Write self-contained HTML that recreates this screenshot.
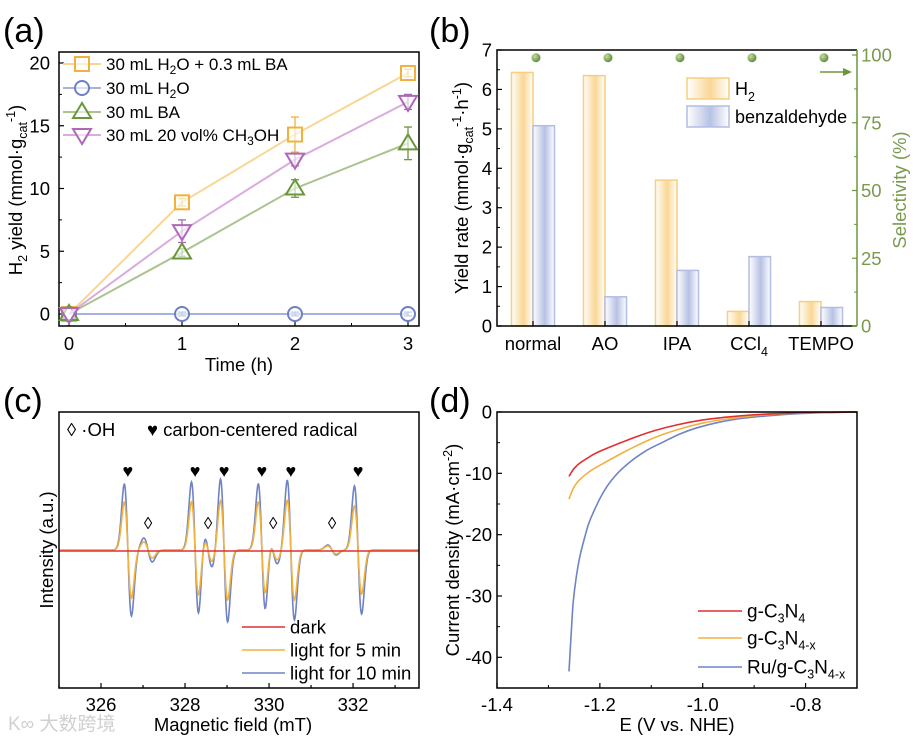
<!DOCTYPE html>
<html><head><meta charset="utf-8">
<style>
html,body{margin:0;padding:0;background:#fff;}
svg{display:block;font-family:"Liberation Sans","Noto Sans CJK SC",sans-serif;}
</style></head>
<body>
<svg id="fig" width="913" height="746" viewBox="0 0 913 746" xmlns="http://www.w3.org/2000/svg">
<defs>
<linearGradient id="gO" x1="0" x2="1" y1="0" y2="0"><stop offset="0" stop-color="#fff"/><stop offset="0.55" stop-color="#f9d796"/><stop offset="1" stop-color="#fff"/></linearGradient>
<linearGradient id="gB" x1="0" x2="1" y1="0" y2="0"><stop offset="0" stop-color="#fff"/><stop offset="0.55" stop-color="#b7c2e4"/><stop offset="1" stop-color="#fff"/></linearGradient>
<radialGradient id="gDot" cx="0.35" cy="0.35" r="0.7"><stop offset="0" stop-color="#c5dca4"/><stop offset="1" stop-color="#5e8a34"/></radialGradient>
</defs>
<g id="pa"></g>
<g id="pb"></g>
<g id="pc"></g>
<g id="pd"></g>
<text x="8" y="730" font-size="19" fill="#d0d0d0">K∞ 大数跨境</text>
</svg>
<script>
// ---------- Panel (a) data ----------
const aTimes = [0, 1, 2, 3];
const aSeriesNames = ["30 mL H2O + 0.3 mL BA", "30 mL H2O", "30 mL BA", "30 mL 20 vol% CH3OH"];
const aOrange = [0, 8.9, 14.3, 19.2];
const aOrangeErr = [0, 0.3, 1.4, 0.3];
const aBlue = [0, 0, 0, 0];
const aBlueErr = [0, 0.15, 0.15, 0.15];
const aGreen = [0, 4.9, 10.0, 13.6];
const aGreenErr = [0, 0.3, 0.7, 1.3];
const aPurple = [0, 6.6, 12.3, 16.9];
const aPurpleErr = [0, 0.9, 0.5, 0.6];
const aYTicks = [0, 5, 10, 15, 20];
const aXTicks = [0, 1, 2, 3];
// ---------- Panel (b) data ----------
const bCategories = ["normal", "AO", "IPA", "CCl4", "TEMPO"];
const bH2 = [6.43, 6.35, 3.70, 0.37, 0.62];
const bBenz = [5.08, 0.74, 1.41, 1.76, 0.47];
const bSelectivity = [99, 99, 99, 99, 99];
const bYTicks = [0, 1, 2, 3, 4, 5, 6, 7];
const bRTicks = [0, 25, 50, 75, 100];
// ---------- Panel (c) data ----------
const cCarbonCenters = [326.64, 328.24, 328.93, 329.83, 330.52, 332.12];
const cCarbonAmp10 = [66, 68, 72, 66, 70, 64];
const cCarbonAmp5 = [48, 48, 50, 48, 50, 44];
const cOHCenters = [327.12, 328.55, 330.1, 331.5];
const cOHAmp10 = [12, 18, 14, 5];
const cOHAmp5 = [8, 12, 10, 4];
const cXTicks = [326, 328, 330, 332];
// ---------- Panel (d) data ----------
const dRedE = [-1.26, -1.255, -1.25, -1.24, -1.22, -1.2, -1.15, -1.1, -1.05, -1.0, -0.95, -0.9, -0.85, -0.8, -0.75, -0.7];
const dRedJ = [-10.5, -9.8, -9.2, -8.4, -7.3, -6.4, -4.7, -3.2, -2.1, -1.3, -0.8, -0.45, -0.25, -0.1, -0.05, 0];
const dOrangeE = [-1.26, -1.255, -1.25, -1.24, -1.22, -1.2, -1.15, -1.1, -1.05, -1.0, -0.95, -0.9, -0.85, -0.8, -0.75, -0.7];
const dOrangeJ = [-14.2, -13.1, -12.2, -11.1, -9.7, -8.7, -6.4, -4.4, -2.9, -1.8, -1.1, -0.6, -0.3, -0.15, -0.05, 0];
const dBlueE = [-1.26, -1.256, -1.252, -1.246, -1.239, -1.229, -1.219, -1.194, -1.17, -1.142, -1.11, -1.077, -1.045, -1.012, -0.97, -0.92, -0.87, -0.82, -0.76, -0.7];
const dBlueJ = [-42.3, -36.5, -31.2, -27.0, -23.6, -20.3, -17.6, -13.2, -10.4, -8.2, -6.3, -4.9, -3.6, -2.6, -1.7, -1.0, -0.6, -0.3, -0.1, 0];
const dYTicks = [0, -10, -20, -30, -40];
const dXTicks = [-1.4, -1.2, -1.0, -0.8];

const FS = 18.5, SUB = 12.5;
const NS = "http://www.w3.org/2000/svg";
function mk(parent, tag, attrs, txt) {
  const e = document.createElementNS(NS, tag);
  for (const k in attrs) e.setAttribute(k, attrs[k]);
  if (txt !== undefined) e.innerHTML = txt;
  parent.appendChild(e);
  return e;
}
function lin(d0, d1, r0, r1) { return v => r0 + (v - d0) * (r1 - r0) / (d1 - d0); }
function sub(s, dy) { dy = dy || 5; return `<tspan font-size="${SUB}" dy="${dy}">${s}</tspan>`; }

// ================= PANEL A =================
(function () {
  const g = document.getElementById('pa');
  const X = lin(0, 3, 69, 408), Y = lin(0, 20, 314, 63);
  let t = mk(g, 'text', { x: 3, y: 42, 'font-size': 34 }, '(a)');
   
  const box = mk(g, 'rect', { x: 59, y: 52, width: 360, height: 274, fill: 'none', stroke: '#000', 'stroke-width': 1.5 });
   
  aYTicks.forEach(v => {
    mk(g, 'line', { x1: 59, x2: 64, y1: Y(v), y2: Y(v), stroke: '#000', 'stroke-width': 1.2 });
    if (v < 20) mk(g, 'line', { x1: 59, x2: 62, y1: Y(v + 2.5), y2: Y(v + 2.5), stroke: '#000' });
    const l = mk(g, 'text', { x: 50, y: Y(v) + 6.5, 'font-size': FS, 'text-anchor': 'end' }, v);
     
  });
  aXTicks.forEach(v => {
    mk(g, 'line', { x1: X(v), x2: X(v), y1: 326, y2: 321, stroke: '#000', 'stroke-width': 1.2 });
    if (v < 3) mk(g, 'line', { x1: X(v + 0.5), x2: X(v + 0.5), y1: 326, y2: 323, stroke: '#000' });
    const l = mk(g, 'text', { x: X(v), y: 350, 'font-size': FS, 'text-anchor': 'middle' }, v);
     
  });
  t = mk(g, 'text', { x: 239, y: 371, 'font-size': FS, 'text-anchor': 'middle' }, 'Time (h)');
   
  t = mk(g, 'text', { transform: 'translate(22,190) rotate(-90)', 'font-size': FS, 'text-anchor': 'middle' }, 'H' + sub('2') + '<tspan dy="-5"> yield (mmol·g</tspan>' + sub('cat') + `<tspan font-size="${SUB}" dy="-12">-1</tspan><tspan dy="7">)</tspan>`);
   

  const series = [
    { v: aOrange, e: aOrangeErr, c: '#f2b13e', lc: '#f8d795', m: 'sq', name: 'series-h2o-ba' },
    { v: aBlue, e: aBlueErr, c: '#6c80c4', lc: '#a7b3de', m: 'ci', name: 'series-h2o' },
    { v: aGreen, e: aGreenErr, c: '#6b973c', lc: '#abc38f', m: 'tu', name: 'series-ba' },
    { v: aPurple, e: aPurpleErr, c: '#ad69b6', lc: '#d9abde', m: 'td', name: 'series-ch3oh' }
  ];
  function marker(gg, type, cx, cy, col) {
    const s = 7;
    let el;
    if (type === 'sq') el = mk(gg, 'rect', { x: cx - s, y: cy - s, width: 2 * s, height: 2 * s, fill: '#fff', 'fill-opacity': 0.6, stroke: col, 'stroke-width': 2 });
    else if (type === 'ci') el = mk(gg, 'circle', { cx: cx, cy: cy, r: s, fill: '#fff', 'fill-opacity': 0.6, stroke: col, 'stroke-width': 2 });
    else if (type === 'tu') el = mk(gg, 'polygon', { points: `${cx},${cy - 9} ${cx - 9},${cy + 6} ${cx + 9},${cy + 6}`, fill: '#fff', 'fill-opacity': 0.6, stroke: col, 'stroke-width': 2 });
    else el = mk(gg, 'polygon', { points: `${cx},${cy + 9} ${cx - 9},${cy - 6} ${cx + 9},${cy - 6}`, fill: '#fff', 'fill-opacity': 0.6, stroke: col, 'stroke-width': 2 });
    return el;
  }
  series.forEach(s => {
    const sg = mk(g, 'g', {});
     
    const pts = aTimes.map((x, i) => X(x) + ',' + Y(s.v[i])).join(' ');
    const pl = mk(sg, 'polyline', { points: pts, fill: 'none', stroke: s.lc, 'stroke-width': 2 });
     
    aTimes.forEach((x, i) => {
      const cx = X(x), y1 = Y(s.v[i] + s.e[i]), y2 = Y(s.v[i] - s.e[i]);
      if (s.e[i] > 0) {
        mk(sg, 'line', { x1: cx, x2: cx, y1: y1, y2: y2, stroke: s.c, 'stroke-width': 1.3 });
        mk(sg, 'line', { x1: cx - 4, x2: cx + 4, y1: y1, y2: y1, stroke: s.c, 'stroke-width': 1.3 });
        mk(sg, 'line', { x1: cx - 4, x2: cx + 4, y1: y2, y2: y2, stroke: s.c, 'stroke-width': 1.3 });
      }
      const m = marker(sg, s.m, cx, Y(s.v[i]), s.c);
       
    });
  });
  const S2 = 12;
  const labels = [`30 mL H<tspan font-size="${S2}" dy="4">2</tspan><tspan dy="-4">O + 0.3 mL BA</tspan>`, `30 mL H<tspan font-size="${S2}" dy="4">2</tspan><tspan dy="-4">O</tspan>`, '30 mL BA', `30 mL 20 vol% CH<tspan font-size="${S2}" dy="4">3</tspan><tspan dy="-4">OH</tspan>`];
  const ly = [64, 88, 112, 135];
  series.forEach((s, i) => {
    const lg = mk(g, 'g', {});
     
    mk(lg, 'line', { x1: 63, x2: 101, y1: ly[i], y2: ly[i], stroke: s.lc, 'stroke-width': 2 });
    marker(lg, s.m, 82, ly[i], s.c);
    mk(lg, 'text', { x: 106, y: ly[i] + 6, 'font-size': 17 }, labels[i]);
  });
})();

// ================= PANEL B =================
(function () {
  const g = document.getElementById('pb');
  const Y = lin(0, 7, 326, 50), YR = lin(0, 100, 326, 55);
  const X = i => 533 + i * 72;
  let t = mk(g, 'text', { x: 429, y: 42, 'font-size': 34 }, '(b)');
   
  bCategories.forEach((c, i) => {
    const bw = 21.5;
    let r = mk(g, 'rect', { x: X(i) - bw, y: Y(bH2[i]), width: bw, height: 326 - Y(bH2[i]), fill: 'url(#gO)', stroke: '#f7cf7e', 'stroke-width': 1.5 });
     
    r = mk(g, 'rect', { x: X(i), y: Y(bBenz[i]), width: bw, height: 326 - Y(bBenz[i]), fill: 'url(#gB)', stroke: '#b3bde2', 'stroke-width': 1.5 });
     
    const d = mk(g, 'circle', { cx: X(i) + 3, cy: YR(bSelectivity[i]), r: 4.5, fill: 'url(#gDot)' });
     
    mk(g, 'line', { x1: X(i), x2: X(i), y1: 326, y2: 321, stroke: '#000', 'stroke-width': 1.2 });
    const lab = c === 'CCl4' ? 'CCl' + sub('4', 6) : c;
    const l = mk(g, 'text', { x: X(i), y: 350, 'font-size': FS, 'text-anchor': 'middle' }, lab);
     
  });
  const fl = mk(g, 'polyline', { points: '857,50 497,50 497,326 857,326', fill: 'none', stroke: '#000', 'stroke-width': 1.5 });
   
  const ra = mk(g, 'line', { x1: 857, x2: 857, y1: 50, y2: 326, stroke: '#6b973c', 'stroke-width': 1.5 });
   
  bYTicks.forEach(v => {
    mk(g, 'line', { x1: 497, x2: 502, y1: Y(v), y2: Y(v), stroke: '#000', 'stroke-width': 1.2 });
    if (v < 7) mk(g, 'line', { x1: 497, x2: 500, y1: Y(v + 0.5), y2: Y(v + 0.5), stroke: '#000' });
    const l = mk(g, 'text', { x: 492, y: Y(v) + 6.5, 'font-size': FS, 'text-anchor': 'end' }, v);
     
  });
  bRTicks.forEach(v => {
    mk(g, 'line', { x1: 857, x2: 852, y1: YR(v), y2: YR(v), stroke: '#6b973c', 'stroke-width': 1.2 });
    if (v < 100) mk(g, 'line', { x1: 857, x2: 854, y1: YR(v + 12.5), y2: YR(v + 12.5), stroke: '#6b973c' });
    const l = mk(g, 'text', { x: 861, y: YR(v) + 6.5, 'font-size': FS, fill: '#7a9a4e' }, v);
     
  });
  t = mk(g, 'text', { transform: 'translate(468,188) rotate(-90)', 'font-size': FS, 'text-anchor': 'middle' }, 'Yield rate (mmol·g' + sub('cat') + `<tspan font-size="${SUB}" dy="-12">-1</tspan><tspan dy="7">·h</tspan><tspan font-size="${SUB}" dy="-7">-1</tspan><tspan dy="7">)</tspan>`);
   
  t = mk(g, 'text', { transform: 'translate(906,190) rotate(-90)', 'font-size': FS, 'text-anchor': 'middle', fill: '#7a9a4e' }, 'Selectivity (%)');
   
  const ar = mk(g, 'g', {});
   
  mk(ar, 'line', { x1: 820, x2: 846, y1: 72, y2: 72, stroke: '#6b973c', 'stroke-width': 1.5 });
  mk(ar, 'polygon', { points: '852,72 843,68 843,76', fill: '#6b973c' });
  let lg = mk(g, 'g', {});
   
  mk(lg, 'rect', { x: 687, y: 78, width: 42, height: 21, fill: 'url(#gO)', stroke: '#f7cf7e', 'stroke-width': 1.5 });
  mk(lg, 'text', { x: 735, y: 95, 'font-size': 18 }, 'H' + sub('2', 6));
  lg = mk(g, 'g', {});
   
  mk(lg, 'rect', { x: 687, y: 106, width: 42, height: 21, fill: 'url(#gB)', stroke: '#b3bde2', 'stroke-width': 1.5 });
  mk(lg, 'text', { x: 735, y: 123, 'font-size': 18 }, 'benzaldehyde');
})();

// ================= PANEL C =================
(function () {
  const g = document.getElementById('pc');
  const X = lin(325, 333.57, 59, 419);
  const base = 550;
  let t = mk(g, 'text', { x: 3, y: 412, 'font-size': 34 }, '(c)');
   
  function spec(amps, ohAmps) {
    const pts = [];
    for (let px = 59; px <= 419; px += 0.5) {
      const b = 325 + (px - 59) / 42;
      let y = 0;
      cCarbonCenters.forEach((c, i) => { const u = (b - c) / 0.085; y += amps[i] * u * Math.exp(0.5 * (1 - u * u)); });
      cOHCenters.forEach((c, i) => { const u = (b - c) / 0.1; y += ohAmps[i] * u * Math.exp(0.5 * (1 - u * u)); });
      pts.push(px + ',' + (base + y).toFixed(2));
    }
    return pts.join(' ');
  }
  let p = mk(g, 'polyline', { points: spec(cCarbonAmp10, cOHAmp10), fill: 'none', stroke: '#6f83c5', 'stroke-width': 1.6 });
   
  p = mk(g, 'polyline', { points: spec(cCarbonAmp5, cOHAmp5), fill: 'none', stroke: '#f2b13e', 'stroke-width': 1.6 });
   
  p = mk(g, 'polyline', { points: '59,' + (base + 1) + ' 419,' + (base + 1), fill: 'none', stroke: '#e03030', 'stroke-width': 1.5 });
   
  cCarbonCenters.forEach(c => {
    const h = mk(g, 'text', { x: X(c), y: 477, 'font-size': 18, 'text-anchor': 'middle' }, '♥');
     
  });
  cOHCenters.forEach(c => {
    const h = mk(g, 'text', { x: X(c), y: 529, 'font-size': 17, 'text-anchor': 'middle' }, '◊');
     
  });
  const box = mk(g, 'rect', { x: 59, y: 412, width: 360, height: 276, fill: 'none', stroke: '#000', 'stroke-width': 1.5 });
   
  for (let v = 325; v <= 333.5; v += 1) {
    const major = cXTicks.indexOf(v) >= 0;
    mk(g, 'line', { x1: X(v), x2: X(v), y1: 688, y2: major ? 683 : 685, stroke: '#000', 'stroke-width': 1.2 });
  }
  cXTicks.forEach(v => {
    const l = mk(g, 'text', { x: X(v), y: 711, 'font-size': FS, 'text-anchor': 'middle' }, v);
     
  });
  t = mk(g, 'text', { x: 233, y: 731, 'font-size': FS, 'text-anchor': 'middle' }, 'Magnetic field (mT)');
   
  t = mk(g, 'text', { transform: 'translate(53,550) rotate(-90)', 'font-size': FS, 'text-anchor': 'middle' }, 'Intensity (a.u.)');
   
  t = mk(g, 'text', { x: 67, y: 436, 'font-size': FS }, '◊ ·OH');
   
  t = mk(g, 'text', { x: 147, y: 436, 'font-size': FS }, '♥ carbon-centered radical');
   
  const lc = [['#e03030', 'dark'], ['#f2b13e', 'light for 5 min'], ['#6f83c5', 'light for 10 min']];
  lc.forEach((d, i) => {
    const y = 627 + i * 23;
    const lg = mk(g, 'g', {});
     
    mk(lg, 'line', { x1: 242, x2: 285, y1: y, y2: y, stroke: d[0], 'stroke-width': 1.6 });
    mk(lg, 'text', { x: 290, y: y + 6.5, 'font-size': FS }, d[1]);
  });
})();

// ================= PANEL D =================
(function () {
  const g = document.getElementById('pd');
  const X = lin(-1.4, -0.7, 497, 857), Y = lin(0, -45, 412, 688);
  let t = mk(g, 'text', { x: 429, y: 412, 'font-size': 34 }, '(d)');
   
  function path(E, J) {
    const P = E.map((e, i) => [X(e), Y(J[i])]);
    let d = 'M' + P[0][0] + ',' + P[0][1];
    for (let i = 0; i < P.length - 1; i++) {
      const p0 = P[Math.max(0, i - 1)], p1 = P[i], p2 = P[i + 1], p3 = P[Math.min(P.length - 1, i + 2)];
      const c1 = [p1[0] + (p2[0] - p0[0]) / 6, p1[1] + (p2[1] - p0[1]) / 6];
      const c2 = [p2[0] - (p3[0] - p1[0]) / 6, p2[1] - (p3[1] - p1[1]) / 6];
      d += ` C${c1[0]},${c1[1]} ${c2[0]},${c2[1]} ${p2[0]},${p2[1]}`;
    }
    return d;
  }
  let p = mk(g, 'path', { d: path(dBlueE, dBlueJ), fill: 'none', stroke: '#6f83c5', 'stroke-width': 1.6 });
   
  p = mk(g, 'path', { d: path(dOrangeE, dOrangeJ), fill: 'none', stroke: '#f2b13e', 'stroke-width': 1.6 });
   
  p = mk(g, 'path', { d: path(dRedE, dRedJ), fill: 'none', stroke: '#e03030', 'stroke-width': 1.6 });
   
  const box = mk(g, 'rect', { x: 497, y: 412, width: 360, height: 276, fill: 'none', stroke: '#000', 'stroke-width': 1.5 });
   
  dYTicks.forEach(v => {
    mk(g, 'line', { x1: 497, x2: 502, y1: Y(v), y2: Y(v), stroke: '#000', 'stroke-width': 1.2 });
    mk(g, 'line', { x1: 497, x2: 500, y1: Y(v - 5), y2: Y(v - 5), stroke: '#000' });
    const l = mk(g, 'text', { x: 492, y: Y(v) + 6.5, 'font-size': FS, 'text-anchor': 'end' }, v);
     
  });
  dXTicks.forEach(v => {
    mk(g, 'line', { x1: X(v), x2: X(v), y1: 688, y2: 683, stroke: '#000', 'stroke-width': 1.2 });
    mk(g, 'line', { x1: X(v + 0.1), x2: X(v + 0.1), y1: 688, y2: 685, stroke: '#000' });
    const l = mk(g, 'text', { x: X(v), y: 711, 'font-size': FS, 'text-anchor': 'middle' }, v.toFixed(1));
     
  });
  t = mk(g, 'text', { x: 677, y: 731, 'font-size': FS, 'text-anchor': 'middle' }, 'E (V vs. NHE)');
   
  t = mk(g, 'text', { transform: 'translate(459,550) rotate(-90)', 'font-size': FS, 'text-anchor': 'middle' }, `Current density (mA·cm<tspan font-size="${SUB}" dy="-7">-2</tspan><tspan dy="7">)</tspan>`);
   
  const lc = [['#e03030', 'g-C' + sub('3') + '<tspan dy="-5">N</tspan>' + sub('4')],
              ['#f2b13e', 'g-C' + sub('3') + '<tspan dy="-5">N</tspan>' + sub('4-x')],
              ['#6f83c5', 'Ru/g-C' + sub('3') + '<tspan dy="-5">N</tspan>' + sub('4-x')]];
  const ly = [611, 638, 667];
  lc.forEach((d, i) => {
    const lg = mk(g, 'g', {});
     
    mk(lg, 'line', { x1: 698, x2: 742, y1: ly[i], y2: ly[i], stroke: d[0], 'stroke-width': 1.6 });
    mk(lg, 'text', { x: 747, y: ly[i] + 6.5, 'font-size': 19 }, d[1]);
  });
})();
</script>
</body></html>
